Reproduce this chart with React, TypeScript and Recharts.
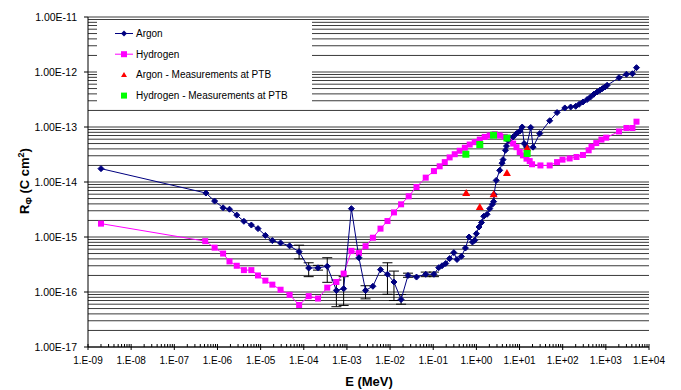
import React from 'react';
import { ComposedChart, Line, XAxis, YAxis, CartesianGrid, ErrorBar, Legend } from 'recharts';

// Argon (calculated)
const argonE = [
  2.0e-9, 5.4e-7, 8.6e-7, 1.35e-6, 1.9e-6, 2.8e-6, 4.1e-6, 6.1e-6, 8.7e-6, 1.29e-5,
  1.87e-5, 2.9e-5, 4.7e-5, 7.8e-5, 1.3e-4, 2.14e-4, 3.5e-4, 5.7e-4, 8.4e-4, 1.27e-3,
  1.9e-3, 2.7e-3, 4.0e-3, 6.0e-3, 8.7e-3, 1.23e-2, 1.8e-2, 2.6e-2, 4.1e-2, 6.7e-2,
  0.104, 0.134, 0.16, 0.195, 0.24, 0.30, 0.356, 0.45, 0.557, 0.676,
  0.81, 0.916, 1.0, 1.15, 1.31, 1.48, 1.77, 2.04, 2.35, 2.51,
  2.57, 2.88, 3.47, 3.93, 4.15, 4.71, 4.98, 5.4, 7.1, 8.5,
  10.1, 11.5, 12.8, 14.5, 18.2, 20.6, 29.4, 50, 74, 112,
  153, 200, 240, 295, 367, 440, 525, 627, 723, 832,
  955, 1070, 2020, 3000, 4130, 5130,
];
const argonR = [
  1.75e-14, 6.3e-15, 4.5e-15, 3.4e-15, 3.2e-15, 2.5e-15, 1.93e-15, 1.65e-15, 1.42e-15, 1.07e-15,
  8.6e-16, 7.8e-16, 6.9e-16, 5.4e-16, 2.73e-16, 2.75e-16, 2.93e-16, 1.07e-16, 1.15e-16, 3.28e-15,
  4.2e-16, 1.07e-16, 1.27e-16, 2.55e-16, 2.1e-16, 1.52e-16, 7.3e-17, 2.0e-16, 1.87e-16, 2.1e-16,
  2.1e-16, 2.77e-16, 3.0e-16, 3.3e-16, 4.05e-16, 5.2e-16, 3.9e-16, 4.45e-16, 6.3e-16, 1.0e-15,
  8.1e-16, 8.7e-16, 1.15e-15, 1.52e-15, 1.83e-15, 2.38e-15, 2.59e-15, 3.28e-15, 3.93e-15, 4.4e-15,
  5.9e-15, 1.07e-14, 1.63e-14, 2.2e-14, 2.55e-14, 3.77e-14, 4.5e-14, 5.7e-14, 6.6e-14, 7.6e-14,
  8.4e-14, 1.0e-13, 5.0e-14, 4.35e-14, 9.8e-14, 4.3e-14, 7.6e-14, 1.3e-13, 1.83e-13, 2.22e-13,
  2.31e-13, 2.38e-13, 2.59e-13, 2.85e-13, 3.15e-13, 3.5e-13, 3.94e-13, 4.33e-13, 4.65e-13, 4.99e-13,
  5.33e-13, 5.73e-13, 7.9e-13, 9.1e-13, 9.3e-13, 1.2e-12,
];

// Argon error bars (energy, lower bound, upper bound)
const argonErrE = [7.8e-5, 1.3e-4, 2.14e-4, 3.5e-4, 5.7e-4, 8.4e-4, 2.7e-3, 8.7e-3, 1.23e-2, 1.8e-2, 2.6e-2, 6.7e-2, 0.104];
const argonErrLow = [4.0e-16, 1.9e-16, 2.5e-16, 1.5e-16, 5.4e-17, 5.7e-17, 7.5e-17, 9.1e-17, 7.0e-17, 6.0e-17, 1.85e-16, 1.9e-16, 1.9e-16];
const argonErrHigh = [7.1e-16, 3.4e-16, 3.05e-16, 4.2e-16, 1.65e-16, 1.9e-16, 1.3e-16, 3.4e-16, 2.4e-16, 9.0e-17, 2.2e-16, 2.3e-16, 2.3e-16];

// Hydrogen (calculated)
const hydrogenE = [
  2.0e-9, 5.2e-7, 8.6e-7, 1.35e-6, 1.9e-6, 2.8e-6, 4.1e-6, 6.1e-6, 8.7e-6, 1.29e-5,
  1.87e-5, 2.9e-5, 4.7e-5, 7.8e-5, 1.3e-4, 2.14e-4, 3.5e-4, 5.7e-4, 8.4e-4, 1.27e-3,
  1.9e-3, 2.7e-3, 4.0e-3, 6.0e-3, 8.7e-3, 1.23e-2, 1.8e-2, 2.7e-2, 4.1e-2, 6.7e-2,
  0.104, 0.141, 0.185, 0.24, 0.315, 0.41, 0.54, 0.70, 0.916, 1.2,
  1.56, 2.04, 2.67, 3.47, 4.55, 5.94, 7.1, 8.5, 10.1, 12.0,
  14.5, 17.2, 19.5, 30.5, 50, 74, 99, 145, 209, 295,
  400, 466, 600, 790, 1020, 2020, 3000, 4130, 5130,
];
const hydrogenR = [
  1.75e-15, 8.4e-16, 6.4e-16, 5.0e-16, 3.6e-16, 3.0e-16, 2.5e-16, 2.5e-16, 2.0e-16, 1.61e-16,
  1.36e-16, 1.1e-16, 8.9e-17, 5.8e-17, 8.4e-17, 7.6e-17, 1.2e-16, 1.52e-16, 2.16e-16, 5.6e-16,
  5.1e-16, 6.8e-16, 9.7e-16, 1.42e-15, 1.95e-15, 2.8e-15, 3.93e-15, 5.5e-15, 8.1e-15, 1.2e-14,
  1.58e-14, 1.93e-14, 2.3e-14, 2.8e-14, 3.2e-14, 3.7e-14, 4.2e-14, 4.8e-14, 5.3e-14, 5.9e-14,
  6.6e-14, 7.0e-14, 7.4e-14, 7.0e-14, 6.6e-14, 5.7e-14, 5.0e-14, 4.3e-14, 3.5e-14, 3.05e-14,
  2.66e-14, 2.4e-14, 2.1e-14, 2.0e-14, 2.0e-14, 2.3e-14, 2.55e-14, 2.68e-14, 2.85e-14, 3.1e-14,
  3.77e-14, 4.4e-14, 5.1e-14, 5.9e-14, 6.4e-14, 8.3e-14, 9.6e-14, 9.6e-14, 1.25e-13,
];

// PTB measurements
const ptbArgonE = [0.58, 1.2, 2.5, 5.1, 15];
const ptbArgonR = [6.3e-15, 3.5e-15, 6.0e-15, 1.46e-14, 4.1e-14];
const ptbHydrogenE = [0.57, 1.2, 2.5, 5.1, 15];
const ptbHydrogenR = [3.2e-14, 4.8e-14, 7.1e-14, 6.3e-14, 3.3e-14];

const xDecades = [-9, -8, -7, -6, -5, -4, -3, -2, -1, 0, 1, 2, 3, 4];
const yDecades = [-17, -16, -15, -14, -13, -12, -11];

const NAVY = '#000080';
const MAGENTA = '#FF00FF';
const RED = '#FF0000';
const GREEN = '#00FF00';
const FONT = '"Liberation Sans", Arial, sans-serif';

const argonData = argonE.map((e, i) => {
  const k = argonErrE.indexOf(e);
  const r = argonR[i];
  return { e, r, err: k >= 0 ? [r - argonErrLow[k], argonErrHigh[k] - r] : undefined };
});
const hydrogenData = hydrogenE.map((e, i) => ({ e, r: hydrogenR[i] }));
const ptbArgonData = ptbArgonE.map((e, i) => ({ e, r: ptbArgonR[i] }));
const ptbHydrogenData = ptbHydrogenE.map((e, i) => ({ e, r: ptbHydrogenR[i] }));

// 1..9 multiples of every decade (last decade only its 1)
const withMinors = (decades: number[]) => {
  const out: number[] = [];
  decades.forEach((d, i) => {
    out.push(Math.pow(10, d));
    if (i < decades.length - 1) for (let m = 2; m <= 9; m++) out.push(m * Math.pow(10, d));
  });
  return out;
};
const xTicks = withMinors(xDecades);
const yTicks = withMinors(yDecades);

const isMajor = (v: number) => {
  const n = Math.log10(v);
  return Math.abs(n - Math.round(n)) < 1e-6;
};
const exp = (v: number) => Math.round(Math.log10(v));
const fmtExp = (n: number) => (n < 0 ? '-' : '+') + String(Math.abs(n)).padStart(2, '0');

function XTick(props: any) {
  const { x, y, payload } = props;
  const v = payload.value;
  if (!isMajor(v)) {
    return <line x1={x} x2={x} y1={y - 3} y2={y} stroke="#000" />;
  }
  return (
    <g>
      <line x1={x} x2={x} y1={y - 3} y2={y + 3} stroke="#000" />
      <text x={x} y={y + 17} textAnchor="middle" fontSize={10} fontFamily={FONT} fill="#000">
        {'1.E' + fmtExp(exp(v))}
      </text>
    </g>
  );
}

function YTick(props: any) {
  const { x, y, payload } = props;
  const v = payload.value;
  if (!isMajor(v)) return null;
  return (
    <g>
      <line x1={x - 4} x2={x} y1={y} y2={y} stroke="#000" />
      <text x={x - 11} y={y + 4} textAnchor="end" fontSize={10.5} fontFamily={FONT} fill="#000">
        {'1.00E' + fmtExp(exp(v))}
      </text>
    </g>
  );
}

function ArgonDot(props: any) {
  const { cx, cy, index } = props;
  if (cx == null || cy == null) return null;
  const s = 3;
  return <polygon key={`a-${index}`} points={`${cx},${cy - s} ${cx + s},${cy} ${cx},${cy + s} ${cx - s},${cy}`} fill={NAVY} stroke={NAVY} />;
}

function HydrogenDot(props: any) {
  const { cx, cy, index } = props;
  if (cx == null || cy == null) return null;
  return <rect key={`h-${index}`} x={cx - 3} y={cy - 3} width={6} height={6} fill={MAGENTA} />;
}

function TriangleDot(props: any) {
  const { cx, cy, index } = props;
  if (cx == null || cy == null) return null;
  return <polygon key={`t-${index}`} points={`${cx},${cy - 4} ${cx + 4},${cy + 3} ${cx - 4},${cy + 3}`} fill={RED} />;
}

function GreenDot(props: any) {
  const { cx, cy, index } = props;
  if (cx == null || cy == null) return null;
  return <rect key={`g-${index}`} x={cx - 3.5} y={cy - 3.5} width={7} height={7} fill={GREEN} />;
}

function LegendBox() {
  const rows = [
    { label: 'Argon', kind: 'argon' },
    { label: 'Hydrogen', kind: 'hydrogen' },
    { label: 'Argon - Measurements at PTB', kind: 'tri' },
    { label: 'Hydrogen - Measurements at PTB', kind: 'sq' },
  ];
  return (
    <svg width={215} height={82} style={{ display: 'block', background: '#fff' }}>
      {rows.map((r, i) => {
        const y = 13.5 + i * 20.7;
        const mx = 27;
        return (
          <g key={r.label}>
            {r.kind === 'argon' && (
              <g>
                <line x1={18} x2={36} y1={y} y2={y} stroke={NAVY} />
                <polygon points={`${mx},${y - 3} ${mx + 3},${y} ${mx},${y + 3} ${mx - 3},${y}`} fill={NAVY} />
              </g>
            )}
            {r.kind === 'hydrogen' && (
              <g>
                <line x1={18} x2={36} y1={y} y2={y} stroke={MAGENTA} />
                <rect x={mx - 3} y={y - 3} width={6} height={6} fill={MAGENTA} />
              </g>
            )}
            {r.kind === 'tri' && <polygon points={`${mx},${y - 3} ${mx + 3},${y + 2} ${mx - 3},${y + 2}`} fill={RED} />}
            {r.kind === 'sq' && <rect x={mx - 3} y={y - 3} width={6} height={6} fill={GREEN} />}
            <text x={39} y={y + 3.5} fontSize={10} fontFamily={FONT} fill="#000">
              {r.label}
            </text>
          </g>
        );
      })}
    </svg>
  );
}

function YTitle() {
  return (
    <text transform="translate(29,181) rotate(-90)" textAnchor="middle" fontSize={13} fontWeight="bold" fontFamily={FONT} fill="#000">
      <tspan>R</tspan>
      <tspan fontSize={9} dy={3}>Φ</tspan>
      <tspan dy={-3}> (C cm</tspan>
      <tspan fontSize={9} dy={-5}>2</tspan>
      <tspan dy={5}>)</tspan>
    </text>
  );
}

function XTitle() {
  return (
    <text x={369} y={386} textAnchor="middle" fontSize={13} fontWeight="bold" fontFamily={FONT} fill="#000">
      E (MeV)
    </text>
  );
}

export default function App() {
  return (
    <div style={{ position: 'absolute', left: 0, top: 0, width: 681, height: 390, background: '#fff' }}>
      <ComposedChart width={681} height={390} margin={{ top: 17, right: 32, bottom: 0, left: 8 }}>
        <CartesianGrid vertical={false} stroke="#3a3a3a" />
        <XAxis
          type="number"
          dataKey="e"
          scale="log"
          domain={[1e-9, 1e4]}
          allowDataOverflow
          ticks={xTicks}
          interval={0}
          tick={<XTick />}
          tickLine={false}
          tickSize={0}
          tickMargin={0}
          height={43}
          axisLine={{ stroke: '#000' }}
          label={<XTitle />}
        />
        <YAxis
          type="number"
          dataKey="r"
          scale="log"
          domain={[1e-17, 1e-11]}
          allowDataOverflow
          ticks={yTicks}
          interval={0}
          width={80}
          tick={<YTick />}
          tickLine={false}
          tickSize={0}
          tickMargin={0}
          axisLine={{ stroke: '#000' }}
          label={<YTitle />}
        />
        <Legend
          layout="vertical"
          align="center"
          verticalAlign="middle"
          content={<LegendBox />}
          wrapperStyle={{ position: 'absolute', left: 97, top: 20, width: 215, height: 82 }}
        />
        <Line
          data={hydrogenData}
          dataKey="r"
          name="Hydrogen"
          type="linear"
          stroke={MAGENTA}
          strokeWidth={1}
          dot={<HydrogenDot />}
          isAnimationActive={false}
        />
        <Line
          data={argonData}
          dataKey="r"
          name="Argon"
          type="linear"
          stroke={NAVY}
          strokeWidth={1}
          dot={<ArgonDot />}
          isAnimationActive={false}
        >
          <ErrorBar dataKey="err" direction="y" width={5} stroke="#000" strokeWidth={1} />
        </Line>
        {/* PTB measurements: markers only */}
        <Line
          data={ptbArgonData}
          dataKey="r"
          name="Argon - Measurements at PTB"
          stroke="none"
          dot={<TriangleDot />}
          activeDot={false}
          isAnimationActive={false}
        />
        <Line
          data={ptbHydrogenData}
          dataKey="r"
          name="Hydrogen - Measurements at PTB"
          stroke="none"
          dot={<GreenDot />}
          activeDot={false}
          isAnimationActive={false}
        />
      </ComposedChart>
    </div>
  );
}
